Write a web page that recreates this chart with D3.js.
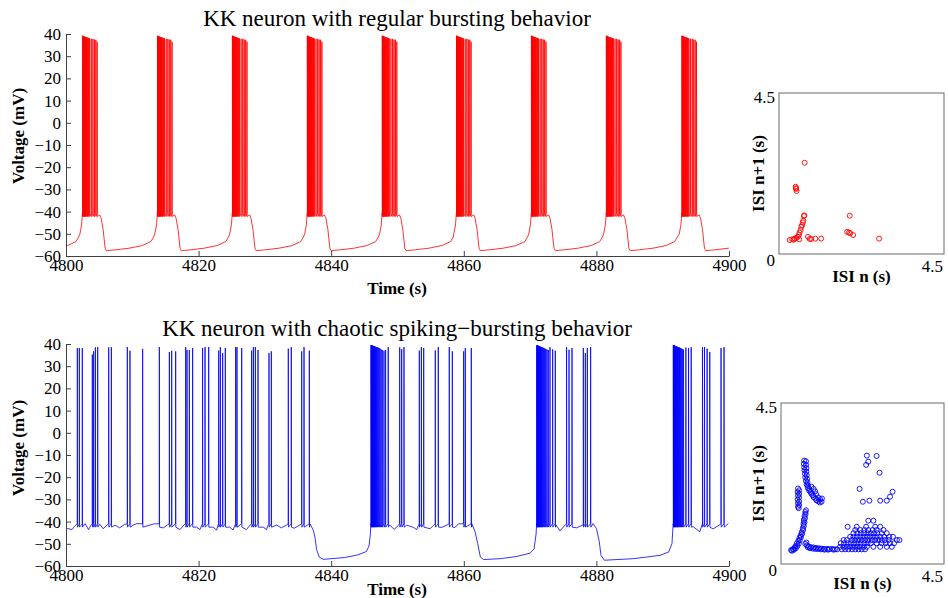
<!DOCTYPE html>
<html>
<head>
<meta charset="utf-8">
<script src="https://cdn.jsdelivr.net/npm/d3@7"></script>
<style>
  body { margin: 0; background: #fff; }
  text { font-family: "Liberation Serif", "Times New Roman", serif; fill: #000; }
  .axis path, .axis line { stroke: #404040; }
</style>
</head>
<body>
<svg width="948" height="598"></svg>
<script>
const svg = d3.select("svg")

// ---- data ----
const timeTicks = [4800, 4820, 4840, 4860, 4880, 4900]
const voltTicks = [-60, -50, -40, -30, -20, -10, 0, 10, 20, 30, 40]
const isiRange = [0, 4.5]

// regular bursting: burst onsets (s), spike offsets inside one burst, peaks (mV)
const regularOnsets = [4791.2, 4802.5, 4813.8, 4825.1, 4836.4, 4847.7, 4858.9, 4870.2, 4881.5, 4892.9]
const regularSpikeOffsets = [0, 0.06, 0.12, 0.19, 0.26, 0.34, 0.42, 0.51, 0.6, 0.7, 0.81, 0.93, 1.06, 1.31, 1.56, 1.78, 2.0, 2.2]
const regularSpikePeaks = [39.2, 39.2, 39, 39, 38.8, 38.8, 38.6, 38.6, 38.5, 38.4, 38.3, 38.2, 38, 37.8, 37.8, 37.5, 37.4, 36.5]
// slow wave around each onset: [seconds from onset, mV]
const regularSlowWave = [[-0.4, -50], [-0.15, -46], [0, -41.5], [2.6, -41.5], [2.8, -43], [3.1, -48], [3.4, -56.5],
  [3.6, -57.6], [5, -57.2], [7, -56.5], [9, -55.3], [10.3, -53.5], [10.7, -51.5]]

// chaotic spiking-bursting: [time (s), peak (mV)]
const chaoticSpikes = [
  [4800.0, 38.2], [4801.71, 38.2], [4802.01, 38.2], [4802.46, 38.2],
  [4803.97, 35.2], [4804.17, 36.7], [4804.43, 38.5], [4804.78, 38.6],
  [4806.44, 38.5], [4806.84, 38.6], [4809.25, 38.6], [4809.65, 37.0], [4811.56, 37.8], [4814.08, 38.6],
  [4815.59, 36.4], [4815.94, 37.0], [4816.54, 36.7],
  [4818.05, 38.6], [4818.25, 37.3], [4818.6, 37.3], [4819.1, 38.2],
  [4820.6, 38.2], [4820.97, 38.6], [4821.52, 38.6],
  [4823.03, 37.0], [4823.28, 38.6], [4823.63, 35.9], [4824.03, 38.2],
  [4825.59, 38.6], [4825.79, 38.6], [4826.5, 38.2],
  [4828.0, 37.0], [4828.26, 38.6], [4828.56, 38.6], [4828.96, 37.3],
  [4830.62, 35.9], [4830.97, 36.7], [4833.53, 37.9], [4833.98, 38.6],
  [4835.55, 36.7], [4835.9, 38.6], [4836.7, 37.0],
  // burst 1
  [4846.0, 39.5], [4846.06, 39.4], [4846.12, 39.4], [4846.19, 39.3], [4846.26, 39.2], [4846.34, 39.2], [4846.42, 39.0],
  [4846.51, 39.0], [4846.6, 38.8], [4846.7, 38.8], [4846.81, 38.6], [4846.93, 38.6], [4847.06, 38.4], [4847.2, 38.2],
  [4847.35, 38.0], [4847.52, 37.6], [4847.7, 37.3], [4847.96, 37.0], [4848.2, 37.3], [4848.6, 38.6],
  [4850.33, 38.5], [4850.63, 37.7], [4850.98, 38.6], [4853.29, 37.0], [4853.6, 38.6], [4853.95, 38.2],
  [4855.7, 37.1], [4856.15, 38.6], [4857.81, 38.6], [4858.27, 36.7],
  [4859.98, 36.7], [4860.23, 38.2], [4861.13, 38.2],
  // burst 2
  [4871.0, 39.5], [4871.06, 39.4], [4871.12, 39.4], [4871.19, 39.3], [4871.26, 39.2], [4871.34, 39.0], [4871.42, 39.0],
  [4871.51, 38.8], [4871.6, 38.8], [4871.7, 38.6], [4871.81, 38.6], [4871.93, 38.4], [4872.06, 38.2], [4872.2, 38.0],
  [4872.36, 37.8], [4872.54, 37.6], [4872.74, 37.3], [4873.0, 38.6], [4873.4, 37.6], [4873.8, 37.0],
  [4875.5, 38.6], [4875.87, 37.4], [4876.32, 38.2], [4878.03, 38.2], [4878.33, 35.9], [4878.63, 38.2], [4879.13, 38.6],
  // burst 3
  [4891.6, 39.5], [4891.66, 39.4], [4891.72, 39.4], [4891.79, 39.3], [4891.86, 39.2], [4891.94, 39.0], [4892.02, 39.0],
  [4892.11, 38.8], [4892.2, 38.8], [4892.3, 38.6], [4892.41, 38.6], [4892.53, 38.4], [4892.66, 38.2], [4892.8, 38.0],
  [4892.96, 37.8], [4893.14, 37.5], [4893.5, 38.4], [4893.9, 38.2], [4894.3, 38.6],
  [4896.0, 38.6], [4896.3, 38.6], [4896.7, 37.9], [4897.1, 36.4], [4898.8, 38.2], [4899.25, 38.6]
]
// chaotic sub-threshold / slow wave: [time (s), mV]
const chaoticSlowWave = [
  [4800.0, -41.6], [4800.2, -43.1], [4800.9, -43.6], [4801.3, -42.1], [4801.6, -41.2], [4802.87, -40.9], [4803.4, -43.6],
  [4803.8, -41.5], [4805.1, -41.2], [4805.6, -43.2], [4806.2, -41.5], [4807.4, -41.6], [4808.1, -42.8], [4808.8, -41.3],
  [4810.2, -41.5], [4810.7, -40.9], [4813.3, -41.0], [4814.7, -42.8], [4815.3, -41.5], [4817.2, -43.6], [4817.8, -41.5],
  [4819.7, -42.5], [4820.2, -43.6], [4820.5, -41.5], [4822.2, -42.5], [4822.7, -43.8], [4822.95, -41.5], [4824.7, -42.5],
  [4825.2, -43.8], [4825.5, -41.5], [4827.2, -43.6], [4827.8, -41.5], [4829.75, -42.5], [4830.25, -43.6], [4830.5, -41.5],
  [4831.75, -41.6], [4832.5, -42.8], [4833.3, -41.5], [4834.4, -43.0], [4835.3, -41.5], [4836.8, -41.0],
  [4837.3, -43.9], [4837.55, -47], [4837.8, -52.7], [4838.2, -56], [4838.8, -57.0], [4842, -56.2], [4844, -55.0],
  [4845.3, -53.5], [4845.7, -51], [4845.9, -46], [4846.0, -41.5],
  [4848.8, -41.5], [4849.5, -43.5], [4850.2, -41.5], [4851.4, -41.6], [4852.4, -42.6], [4852.9, -43.6], [4853.2, -41.5],
  [4854.9, -43.2], [4855.4, -41.8], [4856.7, -42.6], [4857.4, -41.6], [4858.7, -42.6], [4859.2, -41.0], [4861.2, -40.9],
  [4861.7, -44.6], [4862.1, -49.9], [4862.5, -56], [4863.0, -57.1], [4865.5, -56.7], [4868.0, -55.7], [4870.0, -54.2],
  [4870.6, -52.3], [4870.9, -45.6], [4871.0, -41.5],
  [4873.9, -41.5], [4874.5, -44.2], [4875.3, -41.5], [4877.0, -42.8], [4878.0, -41.5], [4879.5, -40.9],
  [4880.0, -43.1], [4880.4, -48.4], [4880.7, -55.2], [4881.2, -57.4], [4885.6, -56.7], [4889.6, -55.2], [4890.9, -53.7],
  [4891.4, -49.9], [4891.6, -41.6],
  [4894.6, -42.3], [4895.6, -44.6], [4896.0, -41.5], [4897.6, -43.3], [4898.3, -42.0], [4899.9, -40.9]
]

// ISI return maps: [ISI n, ISI n+1] (s)
const regularIsi = [
  [0.70, 2.55], [0.455, 1.88], [0.47, 1.82], [0.48, 1.76], [0.46, 1.84],
  [0.29, 0.39], [0.36, 0.41], [0.43, 0.43], [0.47, 0.45], [0.51, 0.48], [0.54, 0.53], [0.56, 0.60], [0.59, 0.67],
  [0.61, 0.76], [0.63, 0.81], [0.65, 0.88], [0.66, 0.93], [0.68, 1.06], [0.69, 1.08], [0.55, 0.41], [0.40, 0.40],
  [0.79, 0.48], [0.84, 0.42], [0.88, 0.42], [0.99, 0.43], [1.15, 0.43],
  [1.93, 1.07], [1.86, 0.62], [1.91, 0.60], [1.94, 0.58], [2.02, 0.53], [2.73, 0.43]
]
const chaoticIsi = [
  // upper band
  [0.64, 2.89], [0.69, 2.87], [0.63, 2.80], [0.69, 2.77], [0.64, 2.70], [0.70, 2.68], [0.65, 2.62], [0.70, 2.58],
  [0.66, 2.52], [0.71, 2.48], [0.67, 2.42], [0.72, 2.38], [0.69, 2.32], [0.73, 2.28], [0.71, 2.22], [0.75, 2.19],
  [0.74, 2.13], [0.78, 2.10], [0.78, 2.05], [0.82, 2.01], [0.84, 1.96], [0.88, 1.92], [0.90, 1.87], [0.95, 1.83],
  [0.98, 1.78], [1.03, 1.75], [1.07, 1.72], [1.12, 1.74], [1.13, 1.83],
  [0.84, 2.16], [0.90, 2.10], [0.94, 2.03], [0.97, 1.95], [1.03, 1.86], [1.08, 1.81],
  // small left cluster
  [0.47, 2.11], [0.50, 2.06], [0.46, 2.01], [0.50, 1.96], [0.47, 1.91], [0.50, 1.86], [0.46, 1.80], [0.50, 1.75],
  [0.47, 1.70], [0.50, 1.65], [0.47, 1.60], [0.49, 1.56],
  // lower vertical band
  [0.28, 0.39], [0.33, 0.41], [0.37, 0.45], [0.40, 0.50], [0.44, 0.58], [0.48, 0.65], [0.51, 0.73], [0.54, 0.80],
  [0.57, 0.89], [0.60, 1.00], [0.62, 1.12], [0.63, 1.23], [0.65, 1.34], [0.67, 1.45],
  [0.36, 0.40], [0.41, 0.44], [0.45, 0.50], [0.49, 0.57], [0.52, 0.66], [0.55, 0.75], [0.58, 0.84], [0.61, 0.95],
  [0.63, 1.06], [0.65, 1.17], [0.66, 1.28], [0.68, 1.40], [0.69, 1.50], [0.30, 0.37],
  // horizontal band
  [0.67, 0.56], [0.70, 0.60], [0.72, 0.52], [0.77, 0.49], [0.83, 0.47], [0.90, 0.46], [0.97, 0.45], [1.05, 0.44],
  [1.12, 0.43], [1.19, 0.42], [1.27, 0.42], [1.34, 0.42], [1.41, 0.42], [1.49, 0.41], [1.55, 0.41], [0.74, 0.47],
  [0.80, 0.44], [0.88, 0.43], [0.95, 0.42], [1.02, 0.42], [1.10, 0.41], [1.20, 0.40], [1.30, 0.40], [1.45, 0.40],
  // lower right cluster
  [1.68, 0.41], [1.77, 0.41], [1.86, 0.41], [1.96, 0.41], [2.05, 0.41], [2.14, 0.41], [2.23, 0.41], [2.32, 0.41],
  [1.63, 0.48], [1.73, 0.48], [1.82, 0.48], [1.91, 0.48], [2.00, 0.48], [2.09, 0.48], [2.18, 0.48], [2.28, 0.48],
  [2.37, 0.48], [2.55, 0.48], [2.74, 0.48], [2.92, 0.48], [3.06, 0.48],
  [1.65, 0.58], [1.74, 0.58], [1.84, 0.58], [1.93, 0.58], [2.02, 0.58], [2.11, 0.58], [2.20, 0.58], [2.30, 0.58],
  [2.39, 0.58], [2.48, 0.58], [2.64, 0.58], [2.78, 0.58], [2.89, 0.58], [3.01, 0.58], [3.12, 0.58],
  [1.73, 0.67], [1.82, 0.67], [1.96, 0.67], [2.05, 0.67], [2.14, 0.67], [2.23, 0.67], [2.32, 0.67], [2.41, 0.67],
  [2.51, 0.67], [2.60, 0.67], [2.69, 0.67], [2.78, 0.67], [2.87, 0.67], [2.97, 0.67], [3.20, 0.67], [3.27, 0.67],
  [1.91, 0.76], [2.00, 0.76], [2.09, 0.76], [2.19, 0.76], [2.28, 0.76], [2.37, 0.76], [2.46, 0.76], [2.55, 0.76],
  [2.64, 0.76], [2.74, 0.76], [2.85, 0.76], [2.99, 0.76], [3.09, 0.76],
  [2.00, 0.86], [2.11, 0.86], [2.20, 0.86], [2.30, 0.86], [2.39, 0.86], [2.48, 0.86], [2.57, 0.86], [2.66, 0.86],
  [2.78, 0.86], [2.92, 0.86],
  [2.05, 0.95], [2.19, 0.95], [2.30, 0.95], [2.41, 0.95], [2.53, 0.95], [2.64, 0.95], [2.83, 0.95],
  [1.84, 1.04], [2.09, 1.04], [2.35, 1.04], [2.60, 1.04], [2.74, 1.04], [2.41, 1.21], [2.55, 1.21],
  // sparse
  [2.37, 3.03], [2.64, 3.02], [2.41, 2.86], [2.35, 2.77], [2.72, 2.55], [2.17, 2.10], [2.26, 1.74], [2.44, 1.77],
  [2.74, 1.77], [2.92, 1.77], [3.01, 1.88], [3.08, 2.02]
]

// ---- build the traces from the read values ----
function regularTrace() {
  const pts = []
  regularOnsets.forEach(o => {
    regularSlowWave.forEach(d => pts.push([o + d[0], d[1]]))
    regularSpikeOffsets.forEach((s, i) => {
      const t = o + s
      pts.push([t - 0.02, -40.8], [t, regularSpikePeaks[i]], [t + 0.025, -42.2])
    })
  })
  return pts.sort((a, b) => a[0] - b[0])
}

function chaoticTrace() {
  const pts = chaoticSlowWave.slice()
  chaoticSpikes.forEach(d => {
    pts.push([d[0] - 0.02, -41], [d[0], d[1]], [d[0] + 0.03, -42.5])
  })
  return pts.filter(d => d[0] >= 4800 && d[0] <= 4900).sort((a, b) => a[0] - b[0])
}

// ---- voltage panels ----
const x = d3.scaleLinear().domain([4800, 4900]).range([66, 729])

const panels = [
  { title: "KK neuron with regular bursting behavior", top: 34, bottom: 256, color: "#ff0000", data: regularTrace(),
    titleY: 26, labelY: 136, timeY: 294 },
  { title: "KK neuron with chaotic spiking\u2212bursting behavior", top: 344, bottom: 566, color: "#0000ff", data: chaoticTrace(),
    titleY: 336, labelY: 448, timeY: 595 }
]

panels.forEach((p, k) => {
  const y = d3.scaleLinear().domain([-60, 40]).range([p.bottom, p.top])

  svg.append("clipPath").attr("id", "clip" + k)
    .append("rect").attr("x", 66).attr("y", p.top - 4).attr("width", 663).attr("height", p.bottom - p.top + 8)

  const line = d3.line().x(d => x(d[0])).y(d => y(d[1]))
  svg.append("path").datum(p.data)
    .attr("clip-path", "url(#clip" + k + ")")
    .attr("d", line)
    .attr("fill", "none")
    .attr("stroke", p.color)
    .attr("stroke-width", 0.8)
    .attr("stroke-linejoin", "round")

  const gx = svg.append("g").attr("class", "axis")
    .attr("transform", "translate(0," + p.bottom + ")")
    .call(d3.axisBottom(x).tickValues(timeTicks).tickFormat(d3.format("d")).tickSize(-5).tickSizeOuter(0).tickPadding(3))
  const gy = svg.append("g").attr("class", "axis")
    .attr("transform", "translate(66,0)")
    .call(d3.axisLeft(y).tickValues(voltTicks).tickSize(-5).tickSizeOuter(0).tickPadding(5))
  ;[gx, gy].forEach(g => g.selectAll("text").attr("font-size", 17).attr("font-family", "Liberation Serif").attr("fill", "#000"))

  svg.append("text").attr("x", 397).attr("y", p.titleY).attr("text-anchor", "middle")
    .attr("font-size", 23).text(p.title)
  svg.append("text").attr("x", 397).attr("y", p.timeY).attr("text-anchor", "middle")
    .attr("font-size", 17).attr("font-weight", "bold").text("Time (s)")
  svg.append("text").attr("transform", "translate(24," + p.labelY + ") rotate(-90)").attr("text-anchor", "middle")
    .attr("font-size", 17).attr("font-weight", "bold").text("Voltage (mV)")
})

// ---- ISI return maps ----
const maps = [
  { data: regularIsi, color: "#ff0000", left: 779, right: 944, top: 93, bottom: 254, xlabY: 282 },
  { data: chaoticIsi, color: "#0000ff", left: 781, right: 944, top: 403, bottom: 564, xlabY: 589 }
]

maps.forEach(m => {
  const sx = d3.scaleLinear().domain(isiRange).range([m.left, m.right])
  const sy = d3.scaleLinear().domain(isiRange).range([m.bottom, m.top])

  svg.append("rect")
    .attr("x", sx(0)).attr("y", sy(4.5))
    .attr("width", sx(4.5) - sx(0)).attr("height", sy(0) - sy(4.5))
    .attr("fill", "none").attr("stroke", "#6a6a6a").attr("stroke-width", 1)

  svg.append("g").selectAll("circle").data(m.data).join("circle")
    .attr("cx", d => sx(d[0])).attr("cy", d => sy(d[1])).attr("r", 2.5)
    .attr("fill", "none").attr("stroke", m.color).attr("stroke-width", 0.9)

  svg.append("text").attr("x", sx(0) - 4).attr("y", sy(4.5) + 10).attr("text-anchor", "end")
    .attr("font-size", 17).text(isiRange[1])
  svg.append("text").attr("x", sx(0) - 4).attr("y", sy(0) + 12).attr("text-anchor", "end")
    .attr("font-size", 17).text(isiRange[0])
  svg.append("text").attr("x", sx(4.5) - 1).attr("y", sy(0) + 18).attr("text-anchor", "end")
    .attr("font-size", 17).text(isiRange[1])

  svg.append("text").attr("x", (m.left + m.right) / 2).attr("y", m.xlabY).attr("text-anchor", "middle")
    .attr("font-size", 17).attr("font-weight", "bold").text("ISI n (s)")
  svg.append("text").attr("transform", "translate(764," + (m.top + m.bottom) / 2 + ") rotate(-90)")
    .attr("text-anchor", "middle").attr("font-size", 17).attr("font-weight", "bold").text("ISI n+1 (s)")
})
</script>
</body>
</html>
